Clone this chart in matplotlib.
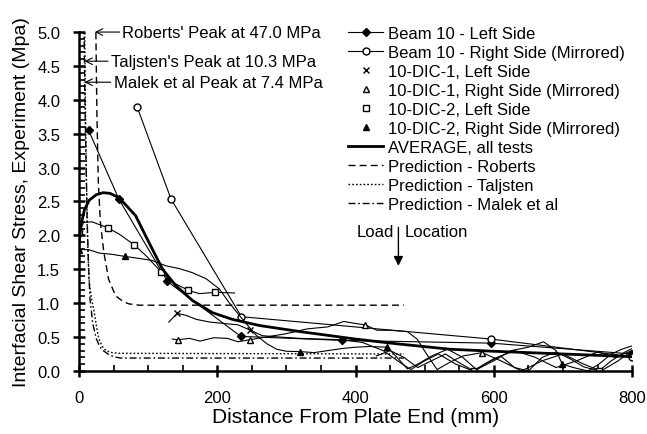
import numpy as np
import matplotlib.pyplot as plt
from matplotlib.ticker import MultipleLocator

plt.rcParams['font.family'] = ['Liberation Sans', 'DejaVu Sans']

# ---- Beam 10 gauge results ----
beam_left_x = [14, 58, 128, 234, 381, 596, 800]
beam_left_y = [3.55, 2.53, 1.32, 0.51, 0.45, 0.41, 0.25]

beam_right_x = [84, 133, 235, 596, 800]
beam_right_y = [3.90, 2.54, 0.80, 0.47, 0.21]

# ---- DIC results ----
dic1_left_x = [130, 142, 155, 170, 190, 210, 230, 248, 265, 290, 320, 350, 380,
               410, 440, 465, 480, 500, 520, 545, 570, 600, 630, 660, 690, 720,
               750, 775, 800]
dic1_left_y = [0.72, 0.85, 0.82, 0.76, 0.72, 0.70, 0.68, 0.60, 0.52, 0.50, 0.48,
               0.47, 0.46, 0.42, 0.30, 0.12, 0.02, 0.15, 0.25, 0.10, 0.0, 0.18,
               0.30, 0.20, 0.05, 0.15, 0.28, 0.20, 0.30]
dic1_left_marks = [1, 7]

dic1_right_x = [135, 143, 160, 175, 195, 215, 230, 247, 270, 300, 330, 360, 383,
                400, 414, 431, 450, 475, 489, 504, 518, 535, 555, 583, 610, 640,
                670, 700, 730, 755, 780, 800]
dic1_right_y = [0.47, 0.46, 0.48, 0.44, 0.49, 0.48, 0.43, 0.46, 0.50, 0.55, 0.62,
                0.65, 0.73, 0.70, 0.68, 0.60, 0.60, 0.58, 0.47, 0.23, 0.02, 0.12,
                0.22, 0.27, 0.15, 0.0, 0.15, 0.25, 0.10, 0.0, 0.15, 0.30]
dic1_right_marks = [1, 7, 14, 23]

dic2_left_x = [0, 7, 19, 42, 58, 80, 97, 119, 135, 158, 174, 197, 225, np.nan,
               430, 450, 470, 490, 510, 530, 550, 571, 590, 610, 630, 650, 670,
               690, 710, 730, 752, 770, 790, 800]
dic2_left_y = [2.05, 2.19, 2.20, 2.11, 2.02, 1.86, 1.70, 1.46, 1.31, 1.19, 1.14,
               1.16, 1.15, np.nan, 0.22, 0.30, 0.20, 0.05, 0.15, 0.25, 0.12, 0.0,
               0.12, 0.22, 0.05, 0.0, 0.20, 0.28, 0.18, 0.06, 0.0, 0.15, 0.28, 0.33]
dic2_left_marks = [0, 3, 5, 7, 9, 11, 21, 30]

dic2_right_x = [0, 14, 29, 48, 66, 87, 106, 126, 145, 164, 184, 203, 217, 232,
                245, 257, 272, 286, 300, 320, 340, 360, 380, 400, 420, 446, 460,
                475, 490, 510, 533, 555, 575, 600, 625, 650, 672, 690, 699, 715,
                736, 752, 770, 785, 800]
dic2_right_y = [1.79, 1.79, 1.74, 1.72, 1.69, 1.66, 1.63, 1.55, 1.51, 1.45, 1.36,
                1.21, 1.01, 0.82, 0.66, 0.52, 0.40, 0.32, 0.29, 0.285, 0.27, 0.30,
                0.33, 0.35, 0.36, 0.35, 0.20, 0.03, 0.10, 0.22, 0.32, 0.20, 0.02,
                0.15, 0.30, 0.35, 0.43, 0.30, 0.10, 0.05, 0.0, 0.10, 0.25, 0.32, 0.37]
dic2_right_marks = [0, 4, 19, 25, 38]

# ---- average of all tests ----
avg_x = [0, 3, 8, 15, 25, 35, 45, 55, 65, 82, 101, 121, 140, 164, 193, 222, 261,
         320, 400, 460, 537, 600, 700, 800]
avg_y = [1.85, 2.15, 2.38, 2.52, 2.60, 2.63, 2.62, 2.57, 2.48, 2.29, 1.90, 1.50,
         1.26, 1.04, 0.86, 0.76, 0.67, 0.58, 0.47, 0.40, 0.32, 0.29, 0.25, 0.21]

# ---- closed-form predictions ----
roberts_x = [22, 23, 24.5, 26, 28, 31, 36, 43, 53, 63, 72, 87, 470]
roberts_y = [47.0, 10.0, 5.0, 3.8, 2.8, 2.2, 1.75, 1.35, 1.11, 1.03, 0.99, 0.97, 0.97]

taljsten_x = [5, 6, 7, 8, 9, 10, 12, 14.5, 18, 22, 26, 29, 34, 39, 48, 58, 470]
taljsten_y = [10.3, 8.5, 6.8, 5.4, 4.3, 3.4, 2.1, 1.36, 1.08, 0.87, 0.62, 0.47,
              0.36, 0.30, 0.27, 0.26, 0.25]

malek_x = [5, 6, 7, 8, 9, 10, 12, 14, 16, 20, 25, 30, 35, 42, 50, 60, 470]
malek_y = [7.4, 6.3, 5.3, 4.5, 3.8, 3.2, 2.2, 1.5, 1.06, 0.70, 0.48, 0.36, 0.30,
           0.25, 0.21, 0.19, 0.19]

load_x = 462

fig = plt.figure(figsize=(6.47, 4.35), dpi=100)
ax = fig.add_axes([0.122, 0.145, 0.855, 0.779])

k = 'black'
thin = 0.8
fs = 12

ax.plot(beam_left_x, beam_left_y, '-', color=k, lw=thin, marker='D', ms=4,
        label='Beam 10 - Left Side')
ax.plot(beam_right_x, beam_right_y, '-', color=k, lw=thin, marker='o', ms=5,
        mfc='white', label='Beam 10 - Right Side (Mirrored)')


def dic_series(x, y, marks, marker, label, **kw):
    x = np.asarray(x, dtype=float)
    y = np.asarray(y, dtype=float)
    ax.plot(x, y, '-', color=k, lw=thin)
    ax.plot(x[marks], y[marks], linestyle='none', color=k, marker=marker,
            label=label, **kw)


dic_series(dic1_left_x, dic1_left_y, dic1_left_marks, 'x', '10-DIC-1, Left Side',
           ms=5, mew=1)
dic_series(dic1_right_x, dic1_right_y, dic1_right_marks, '^',
           '10-DIC-1, Right Side (Mirrored)', ms=5, mfc='white')
dic_series(dic2_left_x, dic2_left_y, dic2_left_marks, 's', '10-DIC-2, Left Side',
           ms=5, mfc='white')
dic_series(dic2_right_x, dic2_right_y, dic2_right_marks, '^',
           '10-DIC-2, Right Side (Mirrored)', ms=5)

ax.plot(avg_x, avg_y, '-', color=k, lw=2.0, label='AVERAGE, all tests')
ax.plot(roberts_x, roberts_y, color=k, lw=1.0, dashes=(5, 3),
        label='Prediction - Roberts')
ax.plot(taljsten_x, taljsten_y, color=k, lw=1.0, dashes=(1.2, 1.5),
        label='Prediction - Taljsten')
ax.plot(malek_x, malek_y, color=k, lw=1.0, dashes=(5, 2, 1.2, 2),
        label='Prediction - Malek et al')

ax.set_xlim(0, 800)
ax.set_ylim(0, 5.0)
ax.xaxis.set_major_locator(MultipleLocator(200))
ax.xaxis.set_minor_locator(MultipleLocator(50))
ax.yaxis.set_major_locator(MultipleLocator(0.5))
ax.yaxis.set_minor_locator(MultipleLocator(0.1))
ax.yaxis.set_major_formatter(plt.FormatStrFormatter('%.1f'))

for side in ['top', 'right']:
    ax.spines[side].set_visible(False)
for side in ['left', 'bottom']:
    ax.spines[side].set_linewidth(1.8)

ax.tick_params(which='major', direction='inout', length=9, width=1.8,
               labelsize=fs, pad=9)
ax.tick_params(which='minor', direction='in', length=4, width=1.2)

ax.set_xlabel('Distance From Plate End (mm)', fontsize=15, labelpad=2)
ax.set_ylabel('Interfacial Shear Stress, Experiment (Mpa)', fontsize=14,
              labelpad=5)

# peak values that fall off the top of the axes
arrow = dict(arrowstyle='->', color=k, lw=0.8, shrinkA=0, shrinkB=0)
ax.annotate("Roberts' Peak at 47.0 MPa", xy=(23, 5.0), xytext=(63, 5.0),
            va='center', fontsize=fs, arrowprops=arrow, annotation_clip=False)
ax.annotate("Taljsten's Peak at 10.3 MPa", xy=(8, 4.57), xytext=(46, 4.57),
            va='center', fontsize=fs, arrowprops=arrow)
ax.annotate("Malek et al Peak at 7.4 MPa", xy=(8, 4.26), xytext=(50, 4.26),
            va='center', fontsize=fs, arrowprops=arrow)

# load position
ax.annotate('', xy=(load_x, 1.55), xytext=(load_x, 2.12),
            arrowprops=dict(arrowstyle='-|>', color=k, lw=1.0,
                            mutation_scale=14, shrinkA=0, shrinkB=0))
ax.text(load_x - 7, 2.05, 'Load', ha='right', va='center', fontsize=fs)
ax.text(load_x + 9, 2.05, 'Location', ha='left', va='center', fontsize=fs)

ax.legend(loc='upper left', bbox_to_anchor=(0.487, 1.018), frameon=False,
          fontsize=fs, handlelength=2.1, handletextpad=0.25, labelspacing=0.24,
          borderaxespad=0, borderpad=0, numpoints=1)

plt.savefig('out.png', dpi=100)
